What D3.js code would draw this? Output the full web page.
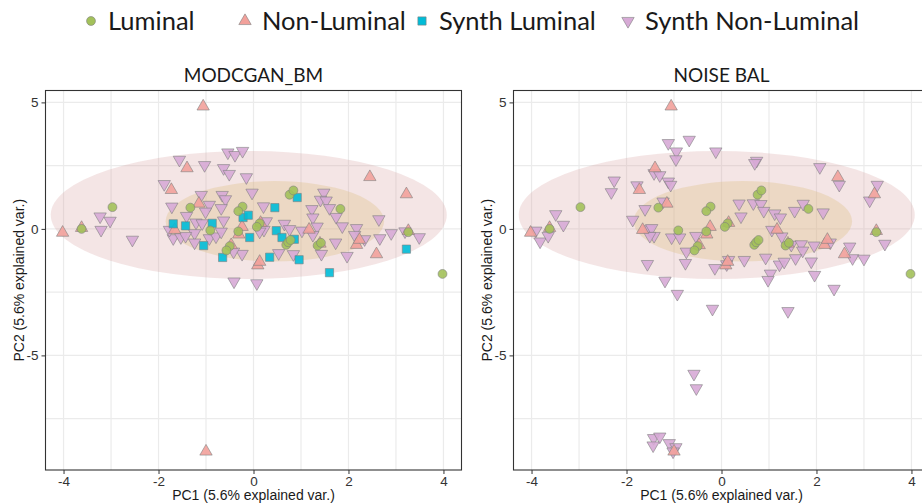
<!DOCTYPE html>
<html lang="en">
<head>
<meta charset="utf-8">
<title>PCA real vs synthetic</title>
<script src="https://d3js.org/d3.v7.min.js"></script>
<style>
body { margin: 0; background: #fff; }
.tick text { font: 13.5px "Liberation Sans", Arial, sans-serif; fill: #333; }
.axis-title { font: 14px "Liberation Sans", Arial, sans-serif; fill: #1a1a1a; }
.panel-title { font: 19px Lato, sans-serif; fill: #1a1a1a; text-anchor: middle; }
.legend text { font: 25.5px Lato, sans-serif; fill: #1a1a1a; }
</style>
</head>
<body>
<svg id="chart" width="922" height="504"></svg>
<script>
// real samples, identical in both panels
const luminal = [[-2.97,0.86],[-3.62,0.0],[-1.33,0.84],[-0.23,0.88],[-0.32,0.70],[-0.91,-0.06],[-0.32,-0.10],
  [0.13,0.22],[0.07,0.08],[-0.50,-0.68],[-0.57,-0.85],[0.76,1.35],[0.84,1.52],[0.69,-0.63],[0.73,-0.53],
  [0.78,-0.44],[1.35,-0.66],[1.42,-0.55],[1.83,0.79],[3.26,-0.13],[3.98,-1.78]];
const nonLuminal = [[-1.06,4.84],[-1.40,2.40],[-1.73,1.54],[-1.15,1.00],[-4.02,-0.15],[-3.62,0.04],[-1.66,-0.04],
  [-0.24,0.08],[-0.31,-0.22],[-0.47,-0.64],[0.15,0.24],[0.09,-1.44],[0.13,-1.30],[1.17,-0.03],[1.40,-0.58],
  [2.17,-0.63],[2.23,-0.43],[2.45,2.05],[2.59,-1.0],[3.22,1.37],[3.26,-0.08],[-1.0,-8.8]];

// synthetic samples, MODCGAN_BM
const synthLuminalBM = [[-1.69,0.20],[-1.43,0.12],[-0.87,0.22],[-1.05,-0.66],[-0.65,-1.13],[-0.22,0.45],[-0.11,0.54],
  [0.45,0.84],[0.92,1.24],[0.48,-0.07],[0.60,-0.34],[0.86,-0.41],[-0.08,-0.34],[0.34,-1.12],[0.96,-1.22],
  [1.60,-1.73],[3.22,-0.80]];
const synthNonLuminalBM = [[-1.56,2.73],[-1.03,2.52],[-0.63,2.40],[-0.51,2.17],[-0.15,2.04],[-0.54,3.02],[-0.39,2.92],
  [-0.23,3.08],[-1.88,1.77],[-1.10,1.34],[-0.66,1.34],[-0.59,1.17],[-0.03,1.43],[-1.72,0.88],[-0.93,0.95],
  [-1.01,0.68],[-0.68,0.82],[-1.41,0.51],[-1.21,0.25],[-1.08,0.22],[-0.63,0.33],[-1.24,-0.17],[-1.69,-0.37],
  [-1.53,-0.33],[-1.43,-0.28],[-1.77,-0.04],[-0.93,-0.37],[-0.79,-0.30],[-0.68,-0.11],[-0.24,-0.99],[-0.42,-0.90],
  [-1.24,-0.54],[0.21,0.89],[0.27,0.30],[0.22,-0.04],[0.13,-0.11],[0.65,0.20],[0.76,-0.01],[0.53,-0.96],
  [0.84,-1.00],[1.02,-0.07],[1.23,0.78],[1.25,0.45],[1.48,1.43],[1.41,1.15],[1.53,1.12],[1.60,0.82],[1.34,0.09],
  [1.25,-0.24],[1.43,-0.99],[1.73,-0.54],[1.74,0.47],[1.87,0.10],[1.97,-1.07],[2.17,0.03],[2.13,-0.24],
  [2.34,-0.41],[-3.23,0.49],[-3.02,0.32],[-3.21,-0.04],[-2.55,-0.43],[2.64,0.38],[2.66,-0.37],[2.90,-0.17],
  [3.19,-0.10],[3.49,-0.33],[-0.41,-2.08],[0.07,-2.15]];

// synthetic samples, NOISE BAL (no synthetic luminal)
const synthNonLuminalNoise = [[-1.12,3.39],[-0.68,3.52],[-0.95,3.06],[-0.96,2.75],[-0.12,3.06],[0.74,2.69],[0.70,2.60],
  [2.07,2.44],[-1.42,2.20],[-1.30,2.12],[-1.12,1.87],[-1.07,1.74],[-2.26,1.91],[-2.32,1.45],[-1.78,1.72],
  [-1.61,0.78],[-1.23,1.08],[-1.87,0.36],[-1.52,-0.02],[-1.47,0.03],[-1.42,-0.28],[-1.51,-0.28],[-3.49,0.58],
  [-3.33,0.16],[-3.91,-0.07],[-3.82,-0.50],[-3.65,-0.28],[-1.05,-0.34],[-0.88,-0.34],[-0.74,-0.90],[-0.54,-0.28],
  [0.37,1.00],[0.41,0.49],[0.67,1.01],[0.83,0.98],[0.89,0.71],[1.12,0.61],[1.24,0.45],[1.54,0.71],[1.72,0.99],
  [2.14,0.65],[1.06,-0.04],[1.27,-0.30],[1.47,-0.63],[1.68,-0.61],[1.71,-0.86],[1.95,-0.66],[2.29,-0.54],
  [2.70,-0.70],[2.48,1.74],[3.12,1.12],[3.28,1.74],[3.44,-0.59],[2.76,-1.16],[3.00,-1.18],[1.56,-1.16],
  [1.89,-1.29],[0.93,-1.14],[0.48,-1.23],[0.15,-1.23],[0.11,-1.40],[-0.14,-1.55],[-0.76,-1.35],[-1.56,-1.39],
  [1.03,-1.77],[0.98,-2.02],[1.22,-1.41],[1.32,-1.30],[1.96,-1.82],[-1.19,-2.05],[2.37,-2.37],[-0.93,-2.57],
  [-0.19,-3.16],[1.40,-3.25],[-0.58,-5.73],[-0.53,-6.30],[-1.43,-8.27],[-1.30,-8.21],[-1.44,-8.56],[-1.10,-8.47],
  [-0.96,-8.63],[-1.02,-8.80]];

// confidence ellipses of the real groups: centre and half axes
const ellipseGroups = ['Non-Luminal', 'Luminal'];
const ellipseCentre = [[-0.10, 0.55], [0.45, 0.30]];
const ellipseRadii = [[4.17, 2.53], [2.30, 1.59]];

const xTicks = [-4, -2, 0, 2, 4], xMinor = [-3, -1, 1, 3];
const yTicks = [-5, 0, 5], yMinor = [-7.5, -2.5, 2.5];
const xLimits = [-4.38, 4.38], yLimits = [-9.53, 5.47];

const legendLabels = ['Luminal', 'Non-Luminal', 'Synth Luminal', 'Synth Non-Luminal'];
const panelTitles = ['MODCGAN_BM', 'NOISE BAL'];

var style = {
  'Luminal':           {fill: '#a3c15a', shape: d3.symbolCircle,   size: 62, rot: 0},
  'Non-Luminal':       {fill: '#f2a19b', shape: d3.symbolTriangle, size: 66, rot: 0},
  'Synth Luminal':     {fill: '#00bcd8', shape: d3.symbolSquare,   size: 68, rot: 0},
  'Synth Non-Luminal': {fill: '#d7aad6', shape: d3.symbolTriangle, size: 66, rot: 180}
};
var ellipseFill = {'Non-Luminal': ['#d9a3a3', 0.28], 'Luminal': ['#dcbf80', 0.32]};

var svg = d3.select('svg');
var panels = [
  {left: 45.5, title: panelTitles[0], layers: [['Synth Non-Luminal', synthNonLuminalBM], ['Non-Luminal', nonLuminal], ['Synth Luminal', synthLuminalBM], ['Luminal', luminal]]},
  {left: 513.5, title: panelTitles[1], layers: [['Synth Non-Luminal', synthNonLuminalNoise], ['Non-Luminal', nonLuminal], ['Luminal', luminal]]}
];
var pw = 416, panelTop = 90.5, panelBottom = 470;

panels.forEach(function(p) {
  var x = d3.scaleLinear().domain(xLimits).range([p.left, p.left + pw]);
  var y = d3.scaleLinear().domain(yLimits).range([panelBottom, panelTop]);
  var g = svg.append('g');

  // grid
  g.selectAll('.vgrid').data(xTicks.concat(xMinor)).enter().append('line')
    .attr('x1', d => x(d)).attr('x2', d => x(d)).attr('y1', panelTop).attr('y2', panelBottom)
    .attr('stroke', '#ebebeb').attr('stroke-width', 1.2);
  g.selectAll('.hgrid').data(yTicks.concat(yMinor)).enter().append('line')
    .attr('y1', d => y(d)).attr('y2', d => y(d)).attr('x1', p.left).attr('x2', p.left + pw)
    .attr('stroke', '#ebebeb').attr('stroke-width', 1.2);

  // ellipses
  ellipseGroups.forEach(function(grp, i) {
    var c = ellipseCentre[i], r = ellipseRadii[i];
    g.append('ellipse')
      .attr('cx', x(c[0])).attr('cy', y(c[1]))
      .attr('rx', x(c[0] + r[0]) - x(c[0])).attr('ry', y(c[1]) - y(c[1] + r[1]))
      .attr('fill', ellipseFill[grp][0]).attr('fill-opacity', ellipseFill[grp][1]);
  });

  // points
  p.layers.forEach(function(layer) {
    var s = style[layer[0]];
    g.selectAll(null).data(layer[1]).enter().append('path')
      .attr('d', d3.symbol().type(s.shape).size(s.size))
      .attr('transform', d => 'translate(' + x(d[0]) + ',' + y(d[1]) + ') rotate(' + s.rot + ')')
      .attr('fill', s.fill).attr('fill-opacity', 0.9)
      .attr('stroke', '#7f7f7f').attr('stroke-width', 0.6);
  });

  // border
  g.append('rect').attr('x', p.left).attr('y', panelTop).attr('width', pw).attr('height', panelBottom - panelTop)
    .attr('fill', 'none').attr('stroke', '#333').attr('stroke-width', 1.1);

  // axes
  g.append('g').attr('transform', 'translate(0,' + panelBottom + ')')
    .call(d3.axisBottom(x).tickValues(xTicks).tickSize(4).tickPadding(2).tickFormat(d => String(d)))
    .call(a => a.select('.domain').remove())
    .call(a => a.selectAll('line').attr('stroke', '#333'));
  g.append('g').attr('transform', 'translate(' + p.left + ',0)')
    .call(d3.axisLeft(y).tickValues(yTicks).tickSize(4).tickPadding(3).tickFormat(d => String(d)))
    .call(a => a.select('.domain').remove())
    .call(a => a.selectAll('line').attr('stroke', '#333'));

  g.append('text').attr('class', 'axis-title').attr('text-anchor', 'middle')
    .attr('x', x(0)).attr('y', 500).text('PC1 (5.6% explained var.)');
  g.append('text').attr('class', 'axis-title').attr('text-anchor', 'middle')
    .attr('transform', 'translate(' + (p.left - 22) + ',' + ((panelTop + panelBottom) / 2) + ') rotate(-90)')
    .text('PC2 (5.6% explained var.)');

  g.append('text').attr('class', 'panel-title')
    .attr('x', x(0)).attr('y', 82).text(p.title);
});

// legend
var legendX = [91, 245, 422, 628];
var legend = svg.append('g').attr('class', 'legend');
legendLabels.forEach(function(lab, i) {
  var s = style[lab];
  legend.append('path')
    .attr('d', d3.symbol().type(s.shape).size(s.size))
    .attr('transform', 'translate(' + legendX[i] + ',21) rotate(' + s.rot + ')')
    .attr('fill', s.fill).attr('stroke', '#7f7f7f').attr('stroke-width', 0.6);
  legend.append('text').attr('x', legendX[i] + 17).attr('y', 29.5).text(lab);
});
</script>
</body>
</html>
